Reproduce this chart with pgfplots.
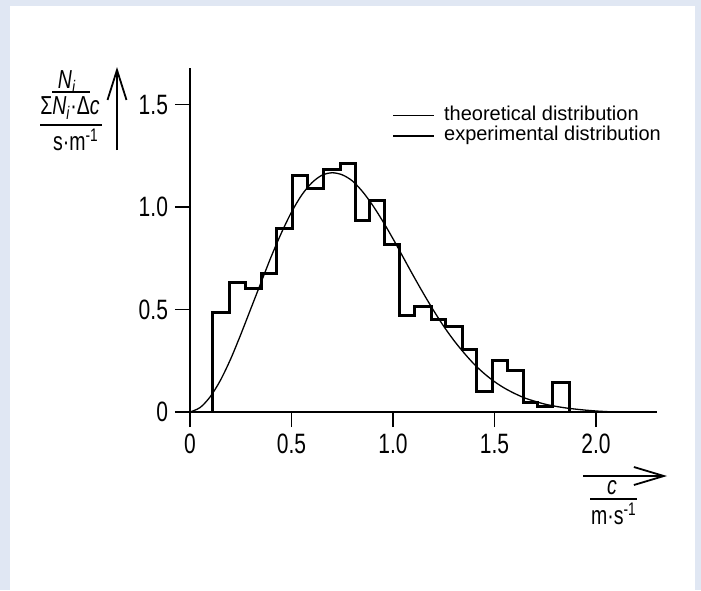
\documentclass[border=0pt]{standalone}
\usepackage{fontspec}
\setmainfont{Liberation Sans}
\newfontfamily\tickfont[FakeStretch=0.75]{Liberation Sans}
\usepackage{pgfplots}
\pgfplotsset{compat=1.18}
\usetikzlibrary{arrows.meta}
\definecolor{panelbg}{RGB}{224,231,243}
\newcommand{\labfont}{\tickfont\fontsize{13}{15}\selectfont}

\begin{document}
\begin{tikzpicture}
% picture is 701 x 590 px, 1 px = 0.5pt
\begin{scope}[x=0.5pt,y=-0.5pt]
  \fill[panelbg] (0,0) rectangle (701,590);
  \fill[white] (10,6) rectangle (695,590);
\end{scope}

\begin{axis}[
  at={(95pt,-206pt)}, anchor=south west,
  scale only axis, width=233.45pt, height=172.2pt,
  xmin=0, xmax=2.3, ymin=0, ymax=1.68,
  axis lines=left,
  axis line style={-, line width=0.9pt},
  tick align=outside,
  major tick length=7.5pt,
  tick style={black, line width=0.9pt},
  xtick={0,0.5,1,1.5,2},
  xticklabels={0,0.5,1.0,1.5,2.0},
  ytick={0,0.5,1,1.5},
  yticklabels={0,0.5,1.0,1.5},
  tick label style={font=\tickfont\fontsize{14}{16}\selectfont},
  clip=false,
  legend image code/.code={\draw[#1] (0pt,0pt) -- (20.5pt,0pt);},
  legend style={at={(0.4325,0.890)}, anchor=north west, draw=none, fill=none,
    inner sep=0pt, font=\fontsize{10}{12}\selectfont,
    nodes={inner sep=0pt, text height=7.5pt, text depth=2.5pt},
    column sep=4.5pt, row sep=0pt},
  legend cell align=left,
]
\addlegendimage{black, line width=0.6pt}
\addlegendentry{theoretical distribution}
\addlegendimage{black, line width=0.9pt}
\addlegendentry{experimental distribution}

% theoretical distribution
\addplot[black, line width=0.65pt, smooth, forget plot] coordinates {
(0,0) (0.05,0.022) (0.1,0.075) (0.15,0.155) (0.2,0.258) (0.25,0.378)
(0.3,0.505) (0.35,0.632) (0.4,0.758) (0.45,0.873) (0.5,0.975) (0.55,1.058)
(0.6,1.118) (0.65,1.155) (0.7,1.167) (0.75,1.157) (0.8,1.127) (0.85,1.075)
(0.9,1.008) (0.95,0.930) (1.0,0.845) (1.05,0.755) (1.1,0.665) (1.15,0.578)
(1.2,0.495) (1.25,0.418) (1.3,0.349) (1.35,0.288) (1.4,0.233) (1.45,0.187)
(1.5,0.148) (1.55,0.116) (1.6,0.090) (1.65,0.068) (1.7,0.052) (1.75,0.038)
(1.8,0.028) (1.85,0.020) (1.9,0.014) (1.95,0.009) (2.0,0.005) (2.05,0.002)
(2.1,0)
};

% experimental distribution (histogram)
\addplot[black, line width=1.5pt, const plot, forget plot] coordinates {
(0.112,0) (0.112,0.483) (0.197,0.634) (0.274,0.602) (0.350,0.678)
(0.427,0.895) (0.506,1.155) (0.581,1.090) (0.660,1.182) (0.739,1.212)
(0.813,0.935) (0.883,1.033) (0.960,0.817) (1.034,0.470) (1.108,0.514)
(1.190,0.450) (1.261,0.415) (1.342,0.304) (1.412,0.102) (1.491,0.252)
(1.565,0.203) (1.642,0.044) (1.711,0.028) (1.787,0.145) (1.868,0)
};
\end{axis}

\begin{scope}[x=0.5pt,y=-0.5pt, font=\labfont]
  % y axis label
  \node at (67,82) {\itshape N\textsubscript{i}};
  \draw[line width=0.6pt] (52,92) -- (90,92);
  \node at (70,108) {Σ\itshape N\textsubscript{i}\upshape·Δ\itshape c};
  \draw[line width=0.6pt] (40,125) -- (102,125);
  \node at (76,140) {s·m\textsuperscript{-1}};
  \draw[line width=0.9pt, -{Straight Barb[length=15pt,width=9.5pt]}] (117,150) -- (117,67);
  % x axis label
  \draw[line width=0.9pt, -{Straight Barb[length=15pt,width=9pt]}] (583,476) -- (667,476);
  \node at (612,488) {\itshape c};
  \draw[line width=0.6pt] (590,499) -- (637,499);
  \node at (614,514) {m·s\textsuperscript{-1}};
\end{scope}
\end{tikzpicture}
\end{document}
